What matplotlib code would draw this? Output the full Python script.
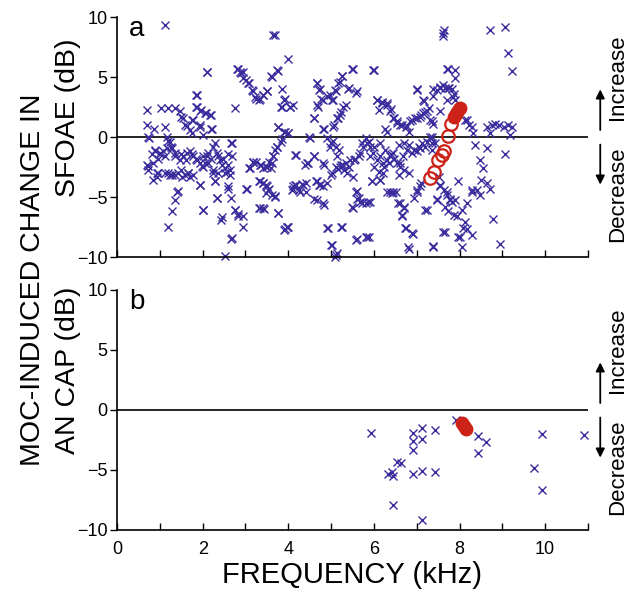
import numpy as np
import matplotlib.pyplot as plt
import matplotlib.transforms as mtransforms

plt.rcParams['font.family'] = ['Liberation Sans', 'DejaVu Sans']

# panel a: MOC-induced change in SFOAE, (frequency kHz, change dB)
sfoae_pts = [
    (1.11, 9.3), (0.69, 2.25), (1.03, 2.4), (1.20, 2.4), (1.36, 2.4), (0.69, 1.0), (0.87, 0.7),
    (1.11, 0.8), (0.73, 0.0), (0.75, -0.1), (1.16, 0.0), (1.20, -0.3), (0.89, -1.1), (1.00, -1.4),
    (0.81, -1.4), (0.96, -1.8), (1.12, -1.6), (1.28, -0.9), (1.36, -1.3), (0.69, -2.3), (0.73, -2.75),
    (0.93, -3.0), (0.85, -3.6), (1.12, -3.0), (1.24, -3.2), (1.36, -3.2), (1.39, -4.6), (1.36, -5.25),
    (1.28, -6.2), (1.18, -7.5),
    (0.72, -2.4), (0.85, -2.2), (0.93, -3.3), (0.96, -3.0), (0.89, -1.2), (1.0, -1.3), (1.08, -1.2),
    (1.16, -0.9), (1.24, -0.4), (1.27, -0.8), (1.19, -3.0), (1.28, -3.2), (1.43, -3.0), (1.51, -3.3),
    (1.59, -3.2), (1.66, -3.0), (1.71, -3.3), (1.36, -1.6), (1.47, -1.9), (1.55, -1.6), (1.63, -1.3),
    (1.71, -1.2), (1.78, -1.6), (1.86, -1.9), (1.94, -2.2), (1.98, -2.4), (2.06, -2.2), (2.10, -1.6),
    (2.13, -1.3), (2.25, -0.8), (2.33, -1.3), (2.41, -1.9), (2.45, -2.3), (2.52, -2.6), (2.56, -2.9),
    (2.60, -2.3), (2.68, -0.5), (2.68, -1.6), (2.64, -3.2), (2.25, -3.0), (2.29, -3.7), (1.43, -4.5),
    (1.94, -4.0), (2.01, -6.1), (2.33, -5.1), (2.45, -6.7), (2.60, -4.3), (2.68, -8.4), (2.76, -6.1),
    (2.83, -6.6), (2.94, -7.5), (2.52, -9.9), (3.03, -4.3), (3.11, -2.6), (3.18, -2.1), (3.34, -2.3),
    (3.42, -2.6), (3.50, -2.5), (3.61, -2.2), (3.65, -1.6), (3.73, -0.8), (3.85, -0.2), (3.34, -3.7),
    (3.42, -3.8), (3.50, -4.1), (3.53, -4.4), (3.61, -4.8), (3.69, -4.9), (3.34, -5.9), (3.42, -5.9),
    (3.77, -6.3), (3.93, -7.7), (3.97, -7.5), (4.08, -4.4), (4.16, -4.0), (4.19, -1.5),
    (1.47, 2.2), (1.53, 1.6), (1.64, 0.9), (1.71, 0.6), (1.86, 3.5), (1.86, 2.5), (1.94, 2.2),
    (1.78, 1.4), (1.94, 0.8), (2.10, 5.4), (2.06, 2.0), (2.17, 1.8), (2.21, 0.7), (2.80, 5.7),
    (2.87, 5.4), (2.95, 4.9), (3.07, 4.5), (3.15, 3.9), (3.22, 3.3), (3.34, 3.2), (3.42, 3.5),
    (3.50, 3.8), (3.61, 5.0), (3.73, 5.6), (3.65, 8.5), (4.0, 6.5), (3.85, 4.0), (3.93, 3.2),
    (3.85, 2.5), (4.04, 2.5), (2.76, 2.4), (3.77, 0.8), (3.93, 0.4), (4.0, 0.3),
    (2.11, 5.45), (2.83, 5.7), (2.89, 5.3), (1.85, 3.5), (1.85, 2.5), (1.97, 2.25), (2.09, 2.0),
    (2.20, 1.8), (1.50, 1.7), (1.58, 1.0), (1.74, 1.4), (1.93, 1.0), (2.20, 0.7), (1.74, 0.3),
    (2.01, 0.15), (2.28, -0.5), (2.67, -0.5), (1.50, -1.4), (1.74, -1.4), (1.62, -1.9), (1.85, -1.8),
    (2.01, -1.6), (2.20, -1.8), (2.36, -1.6), (2.47, -1.8), (2.59, -1.4), (1.50, -2.75), (1.66, -3.0),
    (1.78, -3.2), (2.01, -2.5), (2.13, -2.2), (2.24, -2.75), (2.36, -3.0), (2.52, -3.0), (2.63, -2.75),
    (2.28, -3.7), (1.93, -4.0), (2.59, -4.1), (2.34, -5.05), (2.67, -5.1), (2.75, -6.1), (2.83, -6.4),
    (2.01, -6.1), (2.42, -6.9), (2.67, -8.5),
    (3.68, 8.5), (3.75, 5.5), (3.60, 5.1), (2.94, 5.45), (3.01, 4.75), (3.09, 4.5), (3.17, 3.8),
    (3.25, 3.2), (3.32, 3.1), (3.40, 3.5), (3.50, 3.8), (3.91, 3.1), (3.83, 2.5), (4.03, 2.5),
    (4.10, 2.7), (3.75, 0.85), (3.91, 0.45), (3.99, 0.3), (3.83, -0.4), (3.74, -0.8), (3.68, -1.1),
    (3.64, -1.6), (3.56, -2.05), (3.48, -2.5), (3.36, -2.3), (3.25, -2.05), (3.17, -2.05), (3.09, -2.6),
    (3.60, -2.6), (4.16, -1.5), (4.38, -2.3), (3.01, -4.3), (3.32, -3.7), (3.40, -3.85), (3.48, -4.0),
    (3.56, -4.3), (3.48, -4.7), (3.68, -5.0), (3.32, -5.95), (3.44, -6.0), (3.75, -6.35), (4.10, -4.3),
    (4.18, -4.0), (4.26, -4.4), (4.33, -3.9), (2.94, -6.6), (3.99, -7.5), (3.91, -7.75),
    (4.67, 4.5), (4.74, 4.0), (4.82, 3.1), (4.70, 2.5), (4.59, 1.6), (4.98, 3.5), (5.05, 3.1),
    (5.10, 3.9), (5.21, 4.6), (5.25, 5.1), (5.48, 5.7), (5.40, 4.0), (5.60, 3.8), (5.28, 2.5),
    (5.21, 1.8), (5.13, 1.6), (5.05, 0.8), (4.82, 0.7), (5.98, 5.6), (6.07, 3.1), (6.18, 2.9),
    (6.30, 2.8), (6.38, 2.2), (6.45, 1.6), (6.53, 1.2), (6.65, 1.0), (6.77, 0.9), (6.88, 1.4),
    (7.0, 1.6), (7.08, 1.7), (7.15, 2.0), (7.24, 2.2), (7.0, 3.9), (7.15, 3.1), (7.38, 4.0),
    (7.47, 3.9), (7.55, 4.1), (7.62, 4.3), (7.73, 4.1), (7.82, 4.0), (7.62, 8.7), (7.62, 8.4),
    (7.70, 5.7), (7.90, 5.6), (7.90, 4.9), (6.30, 0.4), (7.31, 1.4), (7.35, 0.0), (7.55, 2.2),
    (7.70, 3.1), (7.85, 3.3), (8.17, 1.4), (8.29, 0.8), (8.32, 0.3),
    (4.43, -2.2), (4.59, -1.6), (4.51, -0.1), (4.82, -2.2), (4.98, -0.8), (5.05, -0.3), (5.13, -1.6),
    (5.21, -2.5), (5.25, -2.4), (5.28, -2.3), (5.44, -1.9), (5.56, -1.8), (5.68, -1.3), (5.75, -0.8),
    (5.83, -0.5), (5.90, -0.8), (5.98, -1.3), (6.07, -1.9), (6.14, -1.6), (6.22, -2.2), (6.30, -1.9),
    (6.38, -1.6), (6.45, -1.3), (6.53, -2.2), (6.61, -2.5), (6.68, -1.6), (6.77, -1.1), (6.88, -1.3),
    (7.0, -1.2), (7.08, -0.9), (7.20, -0.8), (7.35, -0.5), (4.11, -4.1), (4.28, -4.6), (4.35, -4.0),
    (4.67, -3.7), (4.74, -4.0), (4.59, -5.2), (4.82, -5.5), (5.01, -3.0), (5.17, -2.7), (5.48, -5.8),
    (5.60, -5.2), (5.68, -5.4), (5.87, -5.4), (5.60, -4.5), (5.95, -3.7), (6.14, -3.6), (6.22, -3.0),
    (6.38, -4.6), (6.45, -4.6), (6.57, -5.5), (6.65, -6.5), (6.70, -5.9), (7.0, -4.6), (7.08, -4.1),
    (7.24, -6.1), (7.47, -5.2), (7.55, -4.1), (7.70, -4.6), (7.78, -5.2), (7.82, -5.4), (7.97, -3.7),
    (8.05, -6.1), (7.94, -6.6), (8.13, -7.1), (8.01, -8.3), (8.17, -7.7), (8.05, -9.2), (8.29, -4.6),
    (8.40, -4.4), (3.96, -7.5), (4.93, -7.6), (5.25, -7.5), (5.01, -9.0), (5.13, -9.7), (5.60, -8.5),
    (5.83, -8.3), (6.73, -7.6), (6.92, -8.1), (6.80, -9.2), (7.38, -9.1), (7.62, -7.9),
    (5.50, 5.7), (5.26, 5.1), (5.15, 4.5), (5.42, 4.05), (5.58, 3.7), (4.68, 4.5), (4.72, 3.9),
    (4.76, 3.2), (4.68, 2.7), (4.91, 3.4), (5.03, 3.1), (5.11, 3.8), (5.34, 2.7), (5.23, 2.1),
    (5.15, 1.55), (5.07, 1.0), (4.60, 1.55), (4.84, 0.7), (4.49, 0.0), (4.91, -0.1), (4.99, -0.5),
    (5.11, -0.8), (5.19, -1.1), (4.60, -1.6), (4.45, -2.2), (4.84, -2.3), (5.11, -2.5), (5.23, -2.3),
    (5.34, -2.2), (5.42, -2.5), (5.54, -1.9), (5.65, -1.6), (5.73, -0.5), (5.81, -0.1), (5.30, -2.75),
    (5.37, -3.0), (4.99, -3.2), (5.50, -3.3), (4.64, -3.7), (4.72, -4.0), (4.80, -4.1), (4.91, -3.85),
    (4.41, -3.85), (4.41, -4.55), (4.68, -5.25), (4.84, -5.7), (5.58, -4.55), (5.65, -5.1),
    (5.50, -5.95), (5.73, -5.5), (5.81, -5.5), (4.91, -7.6), (5.24, -7.5), (5.58, -8.6), (5.81, -8.3),
    (4.99, -9.0), (5.11, -9.8), (5.08, -10.0),
    (6.0, 5.6), (7.01, 4.0), (7.16, 3.0), (6.07, 3.1), (6.19, 2.8), (6.31, 2.7), (6.39, 2.3),
    (6.11, 2.25), (6.46, 1.55), (6.54, 1.3), (6.27, 0.7), (6.62, 1.0), (6.74, 0.85), (6.85, 1.3),
    (6.97, 1.55), (7.09, 1.8), (7.20, 2.1), (7.28, 2.4), (6.81, 0.45), (5.88, -0.4), (6.0, -0.8),
    (6.15, -0.5), (6.27, -1.1), (6.39, -1.4), (6.46, -1.8), (6.35, -2.2), (6.23, -2.5), (6.11, -2.9),
    (6.0, -2.5), (5.92, -1.6), (6.58, -0.7), (6.70, -0.5), (6.81, -0.7), (6.93, -1.1), (7.05, -0.8),
    (7.13, -0.5), (7.24, -0.4), (6.62, -2.2), (6.70, -2.75), (6.81, -3.0), (6.58, -3.2), (5.96, -3.7),
    (6.15, -3.6), (6.31, -4.55), (6.43, -4.7), (6.51, -4.55), (7.01, -4.4), (7.09, -3.85),
    (6.93, -5.1), (6.62, -5.5), (6.70, -5.8), (5.92, -5.4), (7.20, -6.1), (6.66, -6.6), (6.74, -7.6),
    (6.89, -8.0), (6.81, -9.3), (5.88, -8.3),
    (7.64, 8.9), (8.71, 8.9), (9.07, 9.2), (9.13, 7.0), (9.22, 5.5), (7.74, 5.7), (7.55, 4.2),
    (7.66, 4.1), (7.76, 4.1), (7.86, 3.6), (7.90, 3.1), (7.39, 3.4), (7.35, 1.3), (7.38, 1.1),
    (8.13, 1.4), (8.21, 1.0), (8.64, 0.85), (8.75, 1.0), (8.83, 1.1), (8.91, 1.0), (9.03, 0.85),
    (9.14, 1.0), (9.22, 0.85), (8.71, 0.3), (9.18, 0.15), (7.31, 0.0), (7.43, -0.5), (7.35, -1.1),
    (8.36, -0.7), (8.64, -0.95), (9.07, -1.4), (8.48, -1.9), (8.55, -2.6), (8.51, -3.6), (8.64, -3.85),
    (8.71, -4.3), (8.29, -4.4), (8.48, -4.8), (7.51, -3.3), (7.55, -4.0), (7.63, -4.4), (7.70, -4.8),
    (7.78, -5.25), (7.90, -5.25), (7.47, -5.25), (7.66, -5.8), (7.74, -6.2), (7.86, -6.5),
    (8.17, -5.5), (8.79, -6.8), (8.09, -7.6), (8.29, -8.2), (7.97, -8.3), (7.66, -7.9), (8.95, -8.9),
    (7.39, -9.15),
]
# red open circles (panel a)
open_freq = [7.31, 7.41, 7.50, 7.59, 7.64, 7.73, 7.80]
open_change = [-3.4, -2.9, -1.9, -1.5, -1.2, 0.1, 1.1]
# red filled circles (panel a)
filled_freq_a = [7.88, 7.92, 7.95, 7.98, 8.00]
filled_change_a = [1.7, 1.9, 2.1, 2.3, 2.4]

# panel b: MOC-induced change in AN CAP
cap_pts = [
    (5.93, -1.9), (6.92, -1.9), (7.12, -1.5), (7.43, -1.7), (6.92, -2.6), (7.13, -2.4), (6.92, -3.3),
    (6.53, -4.3), (6.63, -4.4), (6.34, -5.3), (6.42, -5.2), (6.44, -5.5), (6.92, -5.3), (7.13, -5.1),
    (7.43, -5.2), (6.44, -7.9), (7.13, -9.2), (7.91, -0.8), (8.43, -2.2), (8.62, -2.7), (8.43, -3.6),
    (9.92, -2.0), (9.73, -4.8), (9.92, -6.7), (10.91, -2.1),
]
filled_freq_b = [8.05, 8.10, 8.15]
filled_change_b = [-1.1, -1.3, -1.6]

blue = '#3b2c9e'
red = '#cc2218'

fig = plt.figure(figsize=(6.29, 5.95), dpi=100)
ax_a = fig.add_axes([117/629, 1-257/595, 471/629, 240/595])
ax_b = fig.add_axes([117/629, 1-530/595, 471/629, 240/595])

sa = np.array(sfoae_pts)
ax_a.plot(sa[:, 0], sa[:, 1], 'x', color=blue, ms=6, mew=1.0, clip_on=False, zorder=2)
ax_a.plot(open_freq, open_change, 'o', mfc='none', mec=red, ms=9, mew=1.6, zorder=3)
ax_a.plot(filled_freq_a, filled_change_a, 'o', color=red, ms=9, zorder=3)

sb = np.array(cap_pts)
ax_b.plot(sb[:, 0], sb[:, 1], 'x', color=blue, ms=6, mew=1.0, clip_on=False, zorder=2)
ax_b.plot(filled_freq_b, filled_change_b, 'o', color=red, ms=9, zorder=3)

for ax, letter in [(ax_a, 'a'), (ax_b, 'b')]:
    ax.axhline(0, color='k', lw=1.2, zorder=1)
    ax.set_xlim(0, 11)
    ax.set_ylim(-10, 10)
    ax.set_yticks([-10, -5, 0, 5, 10])
    ax.set_xticks(np.arange(0, 12, 1))
    ax.spines['top'].set_visible(False)
    ax.spines['right'].set_visible(False)
    ax.spines['left'].set_linewidth(1.2)
    ax.spines['bottom'].set_linewidth(1.2)
    ax.tick_params(axis='y', direction='out', length=5, width=1.0, labelsize=13, pad=2)
    ax.tick_params(axis='x', direction='in', length=5, width=1.0, labelsize=13, pad=8)
    ax.text(0.042, 0.95, letter, transform=ax.transAxes, fontsize=20, ha='center', va='center')

    trans = mtransforms.blended_transform_factory(ax.transAxes, ax.transData)
    ax.annotate('', xy=(1.026, 4.2), xytext=(1.026, 0.35), xycoords=trans, textcoords=trans,
                arrowprops=dict(arrowstyle='-|>', color='k', lw=1.3, mutation_scale=13),
                annotation_clip=False)
    ax.annotate('', xy=(1.026, -4.2), xytext=(1.026, -0.4), xycoords=trans, textcoords=trans,
                arrowprops=dict(arrowstyle='-|>', color='k', lw=1.3, mutation_scale=13),
                annotation_clip=False)
    ax.text(1.063, 5.0, 'Increase', transform=trans, rotation=90, fontsize=16,
            ha='center', va='center')
    ax.text(1.063, -4.8, 'Decrease', transform=trans, rotation=90, fontsize=16,
            ha='center', va='center')

ax_a.set_xticklabels([])
ax_b.set_xticklabels(['0', '', '2', '', '4', '', '6', '', '8', '', '10', ''])
ax_b.set_xlabel('FREQUENCY (kHz)', fontsize=21, labelpad=2)

fig.text(33/629, 1-280/595, 'MOC-INDUCED CHANGE IN', rotation=90, fontsize=20.5,
         ha='center', va='center')
fig.text(68/629, 1-118/595, 'SFOAE (dB)', rotation=90, fontsize=20.5, ha='center', va='center')
fig.text(68/629, 1-370/595, 'AN CAP (dB)', rotation=90, fontsize=20.5, ha='center', va='center')

plt.savefig('out.png', dpi=100)
